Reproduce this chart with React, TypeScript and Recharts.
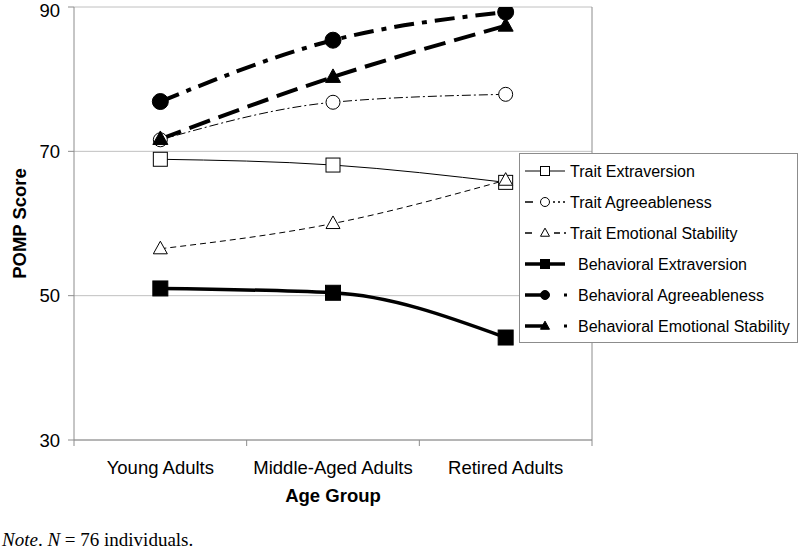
import React from 'react';
import { ComposedChart, Line, XAxis, YAxis, CartesianGrid, Legend, Label } from 'recharts';

const categories = ['Young Adults', 'Middle-Aged Adults', 'Retired Adults'];
const traitExtraversion = [68.9, 68.1, 65.7];
const traitAgreeableness = [71.6, 76.8, 77.9];
const traitEmotionalStability = [56.5, 60.0, 66.0];
const behavioralExtraversion = [51.0, 50.4, 44.2];
const behavioralAgreeableness = [76.9, 85.4, 89.3];
const behavioralEmotionalStability = [71.7, 80.3, 87.4];
const yTicks = [30, 50, 70, 90];

const W = 800;
const H = 549;
const M = { top: 7, right: 207, bottom: 39, left: 14 };
const PLOT_W = W - M.left - 60 - M.right - 1;
const FONT = 'Liberation Sans, Arial, sans-serif';
const GRAY = '#8c8c8c';

type Shape = 'square' | 'circle' | 'triangle';

interface SeriesDef {
  key: string;
  name: string;
  values: number[];
  width: number;
  dash?: string;
  shape: Shape;
  filled: boolean;
  size: number;
}

const series: SeriesDef[] = [
  { key: 'te', name: 'Trait Extraversion', values: traitExtraversion, width: 1, shape: 'square', filled: false, size: 14 },
  { key: 'ta', name: 'Trait Agreeableness', values: traitAgreeableness, width: 1, dash: '9 3 2 3', shape: 'circle', filled: false, size: 14 },
  { key: 'tes', name: 'Trait Emotional Stability', values: traitEmotionalStability, width: 1, dash: '6 4', shape: 'triangle', filled: false, size: 14 },
  { key: 'be', name: 'Behavioral Extraversion', values: behavioralExtraversion, width: 3.5, shape: 'square', filled: true, size: 15 },
  { key: 'ba', name: 'Behavioral Agreeableness', values: behavioralAgreeableness, width: 4, dash: '20 8 5 8', shape: 'circle', filled: true, size: 16 },
  { key: 'bes', name: 'Behavioral Emotional Stability', values: behavioralEmotionalStability, width: 4, dash: '22 9', shape: 'triangle', filled: true, size: 15 },
];

const data = categories.map((c, i) => {
  const row: Record<string, string | number> = { cat: c };
  series.forEach((s) => {
    row[s.key] = s.values[i];
  });
  return row;
});

function Marker({ shape, filled, size, cx, cy }: { shape: Shape; filled: boolean; size: number; cx: number; cy: number }) {
  const fill = filled ? '#000' : '#fff';
  const h = size / 2;
  if (shape === 'square') {
    return <rect x={cx - h} y={cy - h} width={size} height={size} fill={fill} stroke="#000" strokeWidth={1} />;
  }
  if (shape === 'circle') {
    return <circle cx={cx} cy={cy} r={h} fill={fill} stroke="#000" strokeWidth={1} />;
  }
  const th = size * 0.9;
  return (
    <polygon
      points={`${cx},${cy - th * 0.6} ${cx + h},${cy + th * 0.4} ${cx - h},${cy + th * 0.4}`}
      fill={fill}
      stroke="#000"
      strokeWidth={1}
    />
  );
}

const makeDot = (s: SeriesDef) => (props: any) => {
  const { cx, cy, index } = props;
  if (cx == null || cy == null) return <g key={`${s.key}-${index}`} />;
  return (
    <g key={`${s.key}-${index}`}>
      <Marker shape={s.shape} filled={s.filled} size={s.size} cx={cx} cy={cy} />
    </g>
  );
};

const XTick = (props: any) => {
  const { x, y, payload, index } = props;
  const bw = PLOT_W / 3;
  return (
    <g>
      <line x1={x - bw / 2} y1={y} x2={x - bw / 2} y2={y + 6} stroke={GRAY} />
      {index === categories.length - 1 && <line x1={x + bw / 2} y1={y} x2={x + bw / 2} y2={y + 6} stroke={GRAY} />}
      <text x={x} y={y + 34} textAnchor="middle" fontFamily={FONT} fontSize={18.5} fill="#000">
        {payload.value}
      </text>
    </g>
  );
};

const LegendContent = () => {
  const rowY = (i: number) => 18 + i * 31;
  return (
    <svg width={280} height={191} style={{ display: 'block' }}>
      <rect x={0.5} y={0.5} width={278} height={189} fill="#fff" stroke={GRAY} />
      {series.map((s, i) => {
        const y = rowY(i);
        const mx = 26;
        let sample: React.ReactNode = null;
        if (i === 0) sample = <line x1={6} x2={46} y1={y} y2={y} stroke="#000" strokeWidth={1} />;
        if (i === 1)
          sample = (
            <g>
              <line x1={6} x2={14} y1={y} y2={y} stroke="#000" strokeWidth={1.5} />
              <line x1={34} x2={48} y1={y} y2={y} stroke="#000" strokeWidth={1.5} strokeDasharray="2 3" />
            </g>
          );
        if (i === 2)
          sample = (
            <g>
              <line x1={6} x2={13} y1={y} y2={y} stroke="#000" strokeWidth={1.5} />
              <line x1={35} x2={41} y1={y} y2={y} stroke="#000" strokeWidth={1.5} />
              <line x1={45} x2={47} y1={y} y2={y} stroke="#000" strokeWidth={1.5} />
            </g>
          );
        if (i === 3) sample = <line x1={6} x2={46} y1={y} y2={y} stroke="#000" strokeWidth={3.5} />;
        if (i >= 4)
          sample = (
            <g>
              <line x1={6} x2={26} y1={y} y2={y} stroke="#000" strokeWidth={3.5} />
              <rect x={45} y={y - 1.5} width={3} height={3} fill="#000" />
            </g>
          );
        return (
          <g key={s.key}>
            {sample}
            <Marker shape={s.shape} filled={s.filled} size={9} cx={mx} cy={y} />
            <text x={i < 3 ? 51 : 59} y={y + 6} fontFamily={FONT} fontSize={16} fill="#000">
              {s.name}
            </text>
          </g>
        );
      })}
    </svg>
  );
};

export default function App() {
  return (
    <div style={{ position: 'absolute', left: 0, top: 0, width: W, height: H, background: '#fff' }}>
      <ComposedChart width={W} height={H} data={data} margin={M}>
        <CartesianGrid horizontal vertical={false} stroke="#c0c0c0" />
        <XAxis
          dataKey="cat"
          scale="band"
          height={70}
          axisLine={{ stroke: GRAY }}
          tickLine={false}
          tickSize={0}
          tickMargin={0}
          tick={<XTick />}
          interval={0}
        >
          <Label
            content={(p: any) => {
              const vb = p.viewBox;
              return (
                <text x={vb.x + vb.width / 2} y={vb.y + 62} textAnchor="middle" fontFamily={FONT} fontSize={18.5} fontWeight="bold" fill="#000">
                  Age Group
                </text>
              );
            }}
          />
        </XAxis>
        <YAxis
          domain={[30, 90]}
          ticks={yTicks}
          width={60}
          axisLine={{ stroke: GRAY }}
          tickLine={{ stroke: GRAY }}
          tickSize={6}
          tickMargin={8}
          tick={{ fontFamily: FONT, fontSize: 18.5, fill: '#000' }}
          allowDataOverflow
        >
          <Label
            content={(p: any) => {
              const vb = p.viewBox;
              const cx = vb.x + 5;
              const cy = vb.y + vb.height / 2;
              return (
                <text x={cx} y={cy} transform={`rotate(-90, ${cx}, ${cy})`} textAnchor="middle" dominantBaseline="central" fontFamily={FONT} fontSize={18.5} fontWeight="bold" fill="#000">
                  POMP Score
                </text>
              );
            }}
          />
        </YAxis>
        <YAxis yAxisId="r" orientation="right" domain={[30, 90]} width={1} tick={false} tickLine={false} axisLine={{ stroke: GRAY }} />
        <Legend
          layout="horizontal"
          verticalAlign="middle"
          align="center"
          content={<LegendContent />}
          wrapperStyle={{ position: 'absolute', left: 519, top: 153, width: 280, height: 191 }}
        />
        {series.map((s) => (
          <Line
            key={s.key}
            dataKey={s.key}
            name={s.name}
            type="monotone"
            stroke="#000"
            strokeWidth={s.width}
            strokeDasharray={s.dash}
            dot={makeDot(s)}
            activeDot={false}
            isAnimationActive={false}
            legendType="none"
          />
        ))}
      </ComposedChart>
      <div
        style={{
          position: 'absolute',
          left: 2,
          top: 529,
          fontFamily: 'Liberation Serif, Times New Roman, serif',
          fontSize: 19,
          lineHeight: '22px',
          whiteSpace: 'nowrap',
          color: '#000',
        }}
      >
        <i>Note</i>. <i>N</i> = 76 individuals.
      </div>
    </div>
  );
}
